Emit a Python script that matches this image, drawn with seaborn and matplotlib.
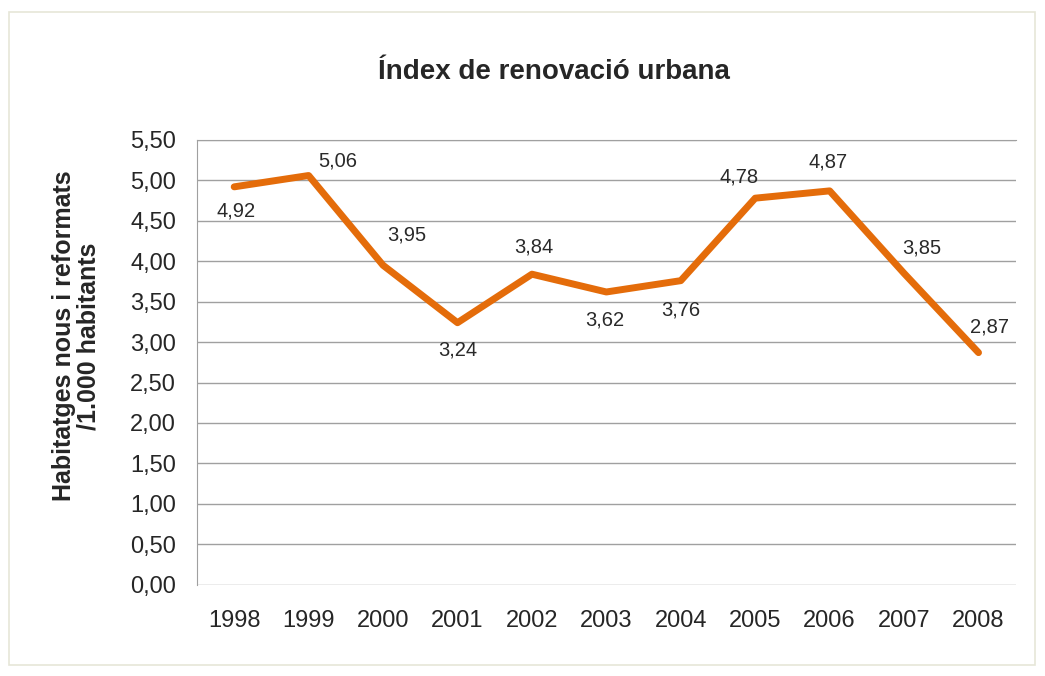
import matplotlib
matplotlib.use("Agg")
import matplotlib.pyplot as plt
import seaborn as sns
import pandas as pd
from matplotlib.patches import Rectangle

# Data
years = ["1998", "1999", "2000", "2001", "2002", "2003", "2004", "2005", "2006", "2007", "2008"]
values = [4.92, 5.06, 3.95, 3.24, 3.84, 3.62, 3.76, 4.78, 4.87, 3.85, 2.87]
# label offsets in pixels (dx, dy)
label_offsets = [(2, -24), (29, 15), (24, 30), (0, -27), (2, 27), (-2, -28),
                 (0, -29), (-16, 21), (-2, 29), (18, 25), (11, 26)]
yticks = [0.0, 0.5, 1.0, 1.5, 2.0, 2.5, 3.0, 3.5, 4.0, 4.5, 5.0, 5.5]

df = pd.DataFrame({"year": years, "value": values})

sns.set_style("white")
plt.rcParams["font.family"] = ["Liberation Sans", "DejaVu Sans"]

fig = plt.figure(figsize=(10.45, 6.76), dpi=100)
fig.patches.append(Rectangle((9 / 1045, 1 - 665 / 676), 1026 / 1045, 653 / 676,
                             transform=fig.transFigure, fill=False,
                             edgecolor="#e6e6d8", linewidth=1.2))
ax = fig.add_axes([0.1885, 0.135, 0.7835, 0.658])

sns.lineplot(data=df, x="year", y="value", color="#e46c0a", linewidth=5,
             sort=False, ax=ax)

for i, (v, off) in enumerate(zip(values, label_offsets)):
    ax.annotate(f"{v:.2f}".replace(".", ","), (i, v), xytext=off,
                textcoords="offset pixels", ha="center", va="center",
                fontsize=14.5, color="#2a2a2a")

ax.set_xlim(-0.5, len(years) - 0.5)
ax.set_ylim(0, 5.5)
ax.set_yticks(yticks)
ax.set_yticklabels([f"{t:.2f}".replace(".", ",") for t in yticks], fontsize=17)
ax.tick_params(axis="x", labelsize=17, length=0, pad=18)
ax.tick_params(axis="y", length=0, pad=15)
ax.grid(axis="y", color="#a0a0a0", linewidth=1)
ax.set_axisbelow(True)
for s in ["right", "bottom"]:
    ax.spines[s].set_visible(False)
ax.spines["left"].set_color("#a0a0a0")
ax.spines["top"].set_color("#a0a0a0")

ax.set_xlabel("")
ax.set_ylabel("")
fig.text(0.073, 0.503, "Habitatges nous i reformats\n/1.000 habitants",
         rotation=90, ha="center", va="center", fontsize=18,
         fontweight="bold", linespacing=1.0)
fig.text(0.53, 0.893, "Índex de renovació urbana", ha="center", va="center",
         fontsize=20, fontweight="bold")

fig.savefig("out.png", dpi=100)
